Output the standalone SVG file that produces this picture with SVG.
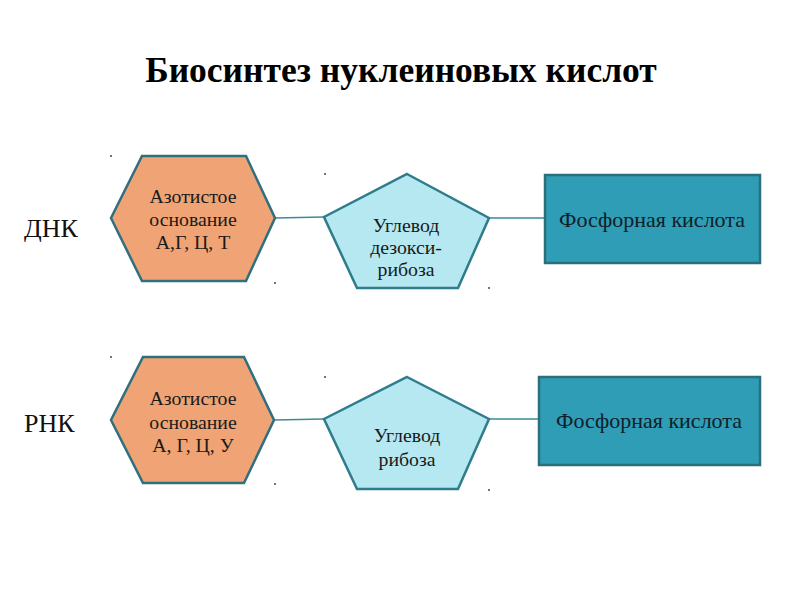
<svg xmlns="http://www.w3.org/2000/svg" width="800" height="600" viewBox="0 0 800 600">
<style>
text { font-family: "Liberation Serif", "Times New Roman", serif; fill: #1a1a1a; }
.title { font-size: 35.5px; font-weight: bold; fill: #000; }
.side { font-size: 26px; fill: #111; }
.lbl { font-size: 19.8px; text-anchor: middle; }
.rlbl { font-size: 22px; text-anchor: middle; fill: #10202a; }
.hex { fill: #f0a374; stroke: #2f6f7e; stroke-width: 2.5; }
.pent { fill: #b5e8f0; stroke: #2f7c8c; stroke-width: 2.5; }
.box { fill: #2e9db5; stroke: #2c6f7c; stroke-width: 2.5; }
.conn { stroke: #3a8a9a; stroke-width: 1.3; fill: none; }
.dot { fill: #333; }
</style>
<rect width="800" height="600" fill="#ffffff"/>
<text class="title" x="401" y="82" text-anchor="middle">Биосинтез нуклеиновых кислот</text>
<text class="side" x="24" y="237">ДНК</text>
<text class="side" x="24" y="432">РНК</text>

<g id="connectors">
<line class="conn" x1="275" y1="218" x2="324" y2="217"/>
<line class="conn" x1="489" y1="218" x2="545" y2="218"/>
<line class="conn" x1="274" y1="420" x2="324" y2="419"/>
<line class="conn" x1="489" y1="419" x2="539" y2="419"/>
</g>

<g id="dots">
<circle class="dot" cx="111" cy="156" r="0.9"/>
<circle class="dot" cx="325" cy="174" r="0.9"/>
<circle class="dot" cx="275" cy="283" r="0.9"/>
<circle class="dot" cx="489" cy="288" r="0.9"/>
<circle class="dot" cx="111" cy="357" r="0.9"/>
<circle class="dot" cx="325" cy="377" r="0.9"/>
<circle class="dot" cx="275" cy="484" r="0.9"/>
<circle class="dot" cx="489" cy="490" r="0.9"/>
</g>

<g id="dna-base">
<polygon class="hex" points="142,156 246,156 275,218 246,281 142,281 111,218"/>
<text class="lbl" x="193" y="203">Азотистое</text>
<text class="lbl" x="193" y="226">основание</text>
<text class="lbl" x="193" y="249">А,Г, Ц, Т</text>
</g>
<g id="dna-sugar">
<polygon class="pent" points="407,174 489,218 458,288 357,288 324,217"/>
<text class="lbl" x="406" y="232">Углевод</text>
<text class="lbl" x="406" y="254">дезокси-</text>
<text class="lbl" x="406" y="276">рибоза</text>
</g>
<g id="dna-phosphate">
<rect class="box" x="545" y="175" width="215" height="88"/>
<text class="rlbl" x="652" y="227">Фосфорная кислота</text>
</g>

<g id="rna-base">
<polygon class="hex" points="143,357 244,357 274,420 244,483 143,483 111,420"/>
<text class="lbl" x="193" y="405">Азотистое</text>
<text class="lbl" x="193" y="429">основание</text>
<text class="lbl" x="193" y="452">А, Г, Ц, У</text>
</g>
<g id="rna-sugar">
<polygon class="pent" points="407,377 489,419 458,489 357,489 324,419"/>
<text class="lbl" x="407" y="442">Углевод</text>
<text class="lbl" x="407" y="466">рибоза</text>
</g>
<g id="rna-phosphate">
<rect class="box" x="539" y="377" width="221" height="88"/>
<text class="rlbl" x="649" y="428">Фосфорная кислота</text>
</g>
</svg>
